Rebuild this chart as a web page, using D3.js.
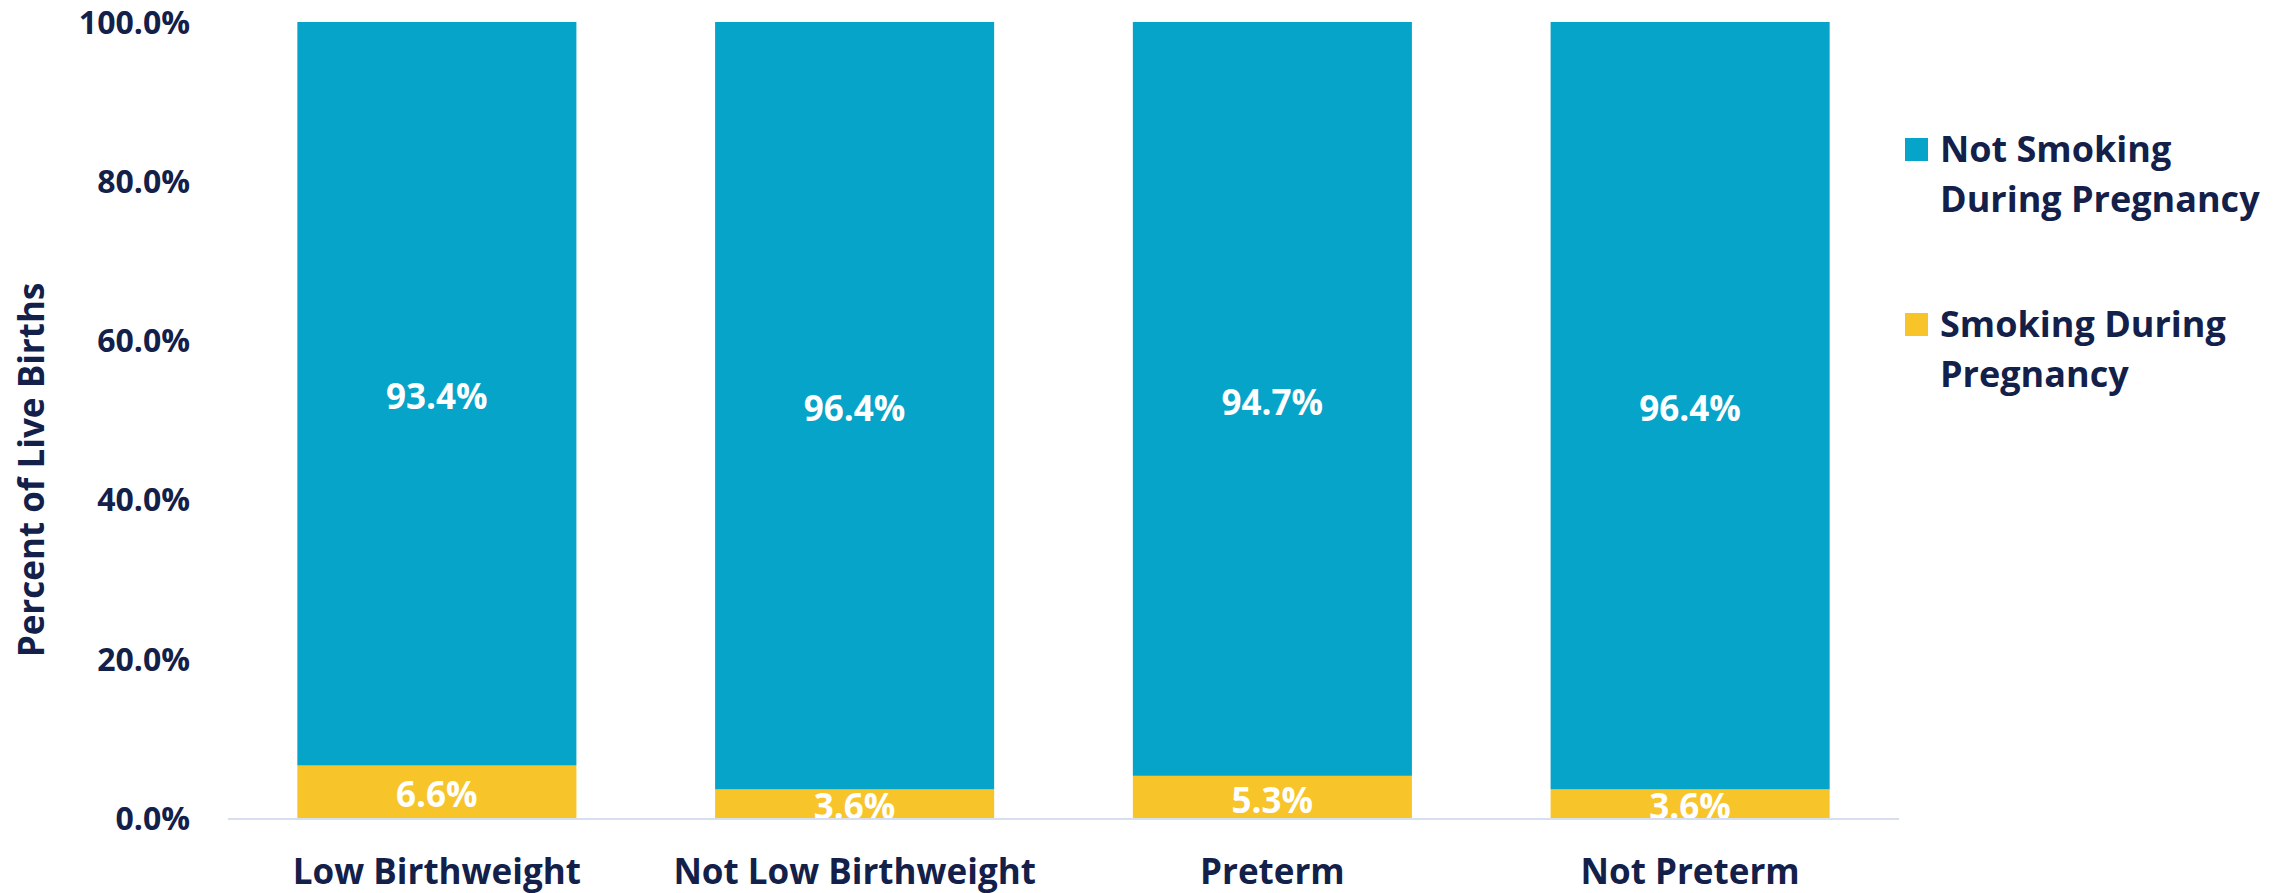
<!DOCTYPE html>
<html lang="en">
<head>
  <meta charset="UTF-8">
  <script src="https://d3js.org/d3.v7.min.js"></script>
  <title>Smoking During Pregnancy</title>
  <style>
    body { margin: 0; background: #fff; }
    text { font-family: "Open Sans", "Noto Sans", sans-serif; font-weight: 700; }
  </style>
</head>
<body>
  <svg width="2282" height="893"></svg>
  <script>
    const categories = ['Low Birthweight', 'Not Low Birthweight', 'Preterm', 'Not Preterm']
    const smoking = [6.6, 3.6, 5.3, 3.6]
    const notSmoking = [93.4, 96.4, 94.7, 96.4]
    const yTicks = [0, 20, 40, 60, 80, 100]

    const NAVY = '#13204a'
    const BLUE = '#06a4c9'
    const YELLOW = '#f7c42a'
    const AXIS = '#d6def0'

    const svg = d3.select('svg')
    const plotLeft = 228, plotRight = 1899, plotTop = 22, plotBottom = 818

    const rows = categories.map((c, i) => ({ cat: c, smoking: smoking[i], notSmoking: notSmoking[i] }))
    const stack = d3.stack().keys(['smoking', 'notSmoking'])(rows)

    const x = d3.scaleBand().domain(categories).range([plotLeft, plotRight]).paddingInner(0.332).paddingOuter(0.166)
    const y = d3.scaleLinear().domain([0, 100]).range([plotBottom, plotTop])
    const color = d3.scaleOrdinal().domain(['smoking', 'notSmoking']).range([YELLOW, BLUE])

    svg.append('clipPath').attr('id', 'plot')
      .append('rect').attr('x', plotLeft).attr('y', 0).attr('width', plotRight - plotLeft).attr('height', plotBottom)

    // y axis labels only
    const yAxis = svg.append('g')
      .attr('transform', `translate(${plotLeft - 35},0)`)
      .call(d3.axisLeft(y).tickValues(yTicks).tickSize(0).tickFormat(d => d.toFixed(1) + '%'))
    yAxis.select('.domain').remove()
    yAxis.selectAll('text').attr('fill', NAVY).style('font-size', '32px').attr('dy', '0.35em')

    svg.append('text')
      .attr('transform', `translate(32,470) rotate(-90)`)
      .attr('text-anchor', 'middle')
      .attr('dy', '0.35em')
      .attr('fill', NAVY)
      .style('font-size', '35px')
      .text('Percent of Live Births')

    const layers = svg.append('g').selectAll('g').data(stack).join('g')
      .attr('fill', d => color(d.key))
    layers.selectAll('rect').data(d => d).join('rect')
      .attr('x', d => x(d.data.cat))
      .attr('width', x.bandwidth())
      .attr('y', d => y(d[1]))
      .attr('height', d => y(d[0]) - y(d[1]))

    // x axis line
    svg.append('line')
      .attr('x1', plotLeft).attr('x2', plotRight).attr('y1', plotBottom + 1).attr('y2', plotBottom + 1)
      .attr('stroke', AXIS).attr('stroke-width', 2)

    // value labels, clipped at the baseline
    const labels = svg.append('g').attr('clip-path', 'url(#plot)')
    stack.forEach(layer => {
      labels.selectAll(null).data(layer).join('text')
        .attr('x', d => x(d.data.cat) + x.bandwidth() / 2)
        .attr('y', d => (y(d[0]) + y(d[1])) / 2 + 3)
        .attr('text-anchor', 'middle')
        .attr('dy', '0.36em')
        .attr('fill', '#fff')
        .style('font-size', '35px')
        .text(d => (d[1] - d[0]).toFixed(1) + '%')
    })

    // category labels
    svg.append('g').selectAll('text').data(categories).join('text')
      .attr('x', d => x(d) + x.bandwidth() / 2)
      .attr('y', 884)
      .attr('text-anchor', 'middle')
      .attr('fill', NAVY)
      .style('font-size', '35px')
      .text(d => d)

    // legend
    const legend = [
      { key: 'notSmoking', lines: ['Not Smoking', 'During Pregnancy'], y: 138 },
      { key: 'smoking', lines: ['Smoking During', 'Pregnancy'], y: 313 }
    ]
    const lg = svg.append('g').selectAll('g').data(legend).join('g')
      .attr('transform', d => `translate(1905,${d.y})`)
    lg.append('rect').attr('width', 23).attr('height', 23).attr('fill', d => color(d.key))
    lg.selectAll('text').data(d => d.lines).join('text')
      .attr('x', 35)
      .attr('y', (d, i) => 24 + i * 50)
      .attr('fill', NAVY)
      .style('font-size', '36px')
      .text(d => d)
  </script>
</body>
</html>
